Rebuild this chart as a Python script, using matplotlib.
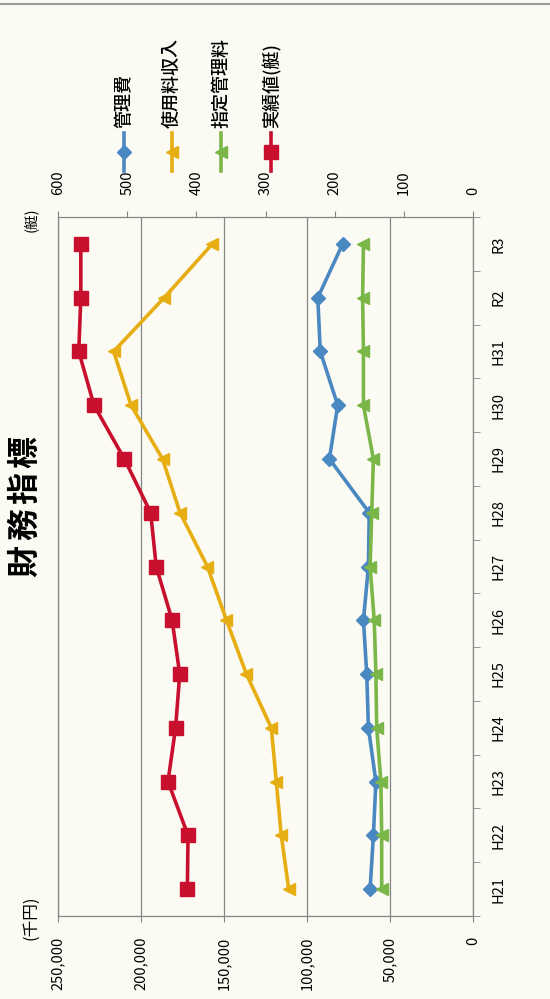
import matplotlib
matplotlib.use('Agg')
import matplotlib.pyplot as plt
from matplotlib.lines import Line2D
from matplotlib.ticker import FuncFormatter

plt.rcParams['font.family'] = ['Noto Sans CJK JP', 'DejaVu Sans']

# data
years = ['H21', 'H22', 'H23', 'H24', 'H25', 'H26', 'H27',
         'H28', 'H29', 'H30', 'H31', 'R2', 'R3']
kanrihi = [62000, 60000, 58500, 63000, 64000, 66000, 63000,
           62500, 86500, 81500, 92000, 93500, 78500]
shiyoryo = [111000, 115500, 118500, 121500, 136500, 148500, 160000,
            176500, 187000, 206000, 216500, 186000, 157000]
shitei = [55000, 55000, 55500, 58000, 58500, 59500, 62000,
          61000, 60000, 66000, 66000, 66500, 66000]
jisseki = [413, 412, 441, 430, 424, 435, 458, 466, 504, 548, 570, 567, 567]

series_names = ['管理費', '使用料収入', '指定管理料', '実績値(艇)']
colors = ['#4a88c2', '#e6ae12', '#7ab648', '#c8102e']
markers = ['D', '<', '<', 's']
msizes = [7, 9, 9, 9.5]
title = '財務指標'

W, H = 550, 999
fig = plt.figure(figsize=(W / 100, H / 100), dpi=100)
fig.patch.set_facecolor('#fbfbf4')

def fx(px):
    return px / W

def fy(py):
    return 1 - py / H

# the chart is printed rotated 90 degrees: values run horizontally
ax = fig.add_axes([fx(58), fy(916), fx(473) - fx(58), fy(217) - fy(916)])
ax.set_facecolor('#fbfbf4')
idx = list(range(len(years)))

grid_c = '#858585'
ax.set_xlim(250000, 0)
ax.set_ylim(-0.5, len(years) - 0.5)
ax.set_xticks([0, 50000, 100000, 150000, 200000, 250000])
ax.xaxis.set_major_formatter(FuncFormatter(lambda v, p: '{:,.0f}'.format(v)))
ax.grid(axis='x', color=grid_c, linewidth=0.9)
ax.set_axisbelow(True)
ax.tick_params(axis='x', direction='out', length=4, pad=11, labelsize=10.5,
               labelrotation=90, color=grid_c)
for lab in ax.get_xticklabels():
    lab.set_va('top')

# category axis on the right
ax.yaxis.tick_right()
ax.set_yticks(idx)
ax.set_yticklabels(years)
ax.set_yticks([i - 0.5 for i in range(len(years) + 1)], minor=True)
ax.tick_params(axis='y', which='major', length=0, pad=13, labelsize=10.5,
               labelrotation=90)
ax.tick_params(axis='y', which='minor', direction='out', length=5, color=grid_c)
for lab in ax.get_yticklabels():
    lab.set_va('center')
for s in ax.spines.values():
    s.set_color(grid_c)
    s.set_linewidth(0.9)

ax.plot(kanrihi, idx, color=colors[0], marker=markers[0], ms=msizes[0],
        lw=2.6, zorder=3)
ax.plot(shiyoryo, idx, color=colors[1], marker=markers[1], ms=msizes[1],
        lw=2.6, zorder=3)
ax.plot(shitei, idx, color=colors[2], marker=markers[2], ms=msizes[2],
        lw=2.6, zorder=3)

# secondary axis (boats) along the top
ax2 = ax.twiny()
ax2.set_xlim(600, 0)
ax2.set_xticks([0, 100, 200, 300, 400, 500, 600])
ax2.tick_params(axis='x', direction='out', length=4, pad=12, labelsize=10.5,
                labelrotation=90, color=grid_c)
for lab in ax2.get_xticklabels():
    lab.set_va('bottom')
for s in ax2.spines.values():
    s.set_visible(False)
ax2.plot(jisseki, idx, color=colors[3], marker=markers[3], ms=msizes[3],
         lw=2.6, zorder=3)
ax2.set_ylim(-0.5, len(years) - 0.5)

# title, one glyph at a time like the stretched scan (bottom to top)
for k, ch in enumerate(title):
    fig.text(fx(25), fy(561 - 36.5 * k), ch, rotation=90, fontsize=23,
             fontweight='bold', ha='center', va='center')
fig.text(fx(31), fy(220), '(艇)', rotation=90, fontsize=10.5,
         ha='center', va='center')
fig.text(fx(31), fy(918), '(千円)', rotation=90, fontsize=12,
         ha='center', va='center')

# hand-made rotated legend
leg_x = [124, 172, 221, 271]
for name, c, m, ms, lx in zip(series_names, colors, markers, msizes, leg_x):
    fig.add_artist(Line2D([fx(lx), fx(lx)], [fy(171), fy(133)], color=c,
                          lw=2.6, transform=fig.transFigure))
    fig.add_artist(Line2D([fx(lx)], [fy(152)], color=c, marker=m,
                          ms=ms, lw=0, transform=fig.transFigure))
    fig.text(fx(lx), fy(128), name, rotation=90, fontsize=13,
             fontweight='medium', ha='center', va='bottom')

# scan border line at the top
fig.add_artist(Line2D([0, 1], [fy(4), fy(4)], color='#9a9a9a', lw=1.5,
                      transform=fig.transFigure))

fig.savefig('out.png', dpi=100, facecolor=fig.get_facecolor())
